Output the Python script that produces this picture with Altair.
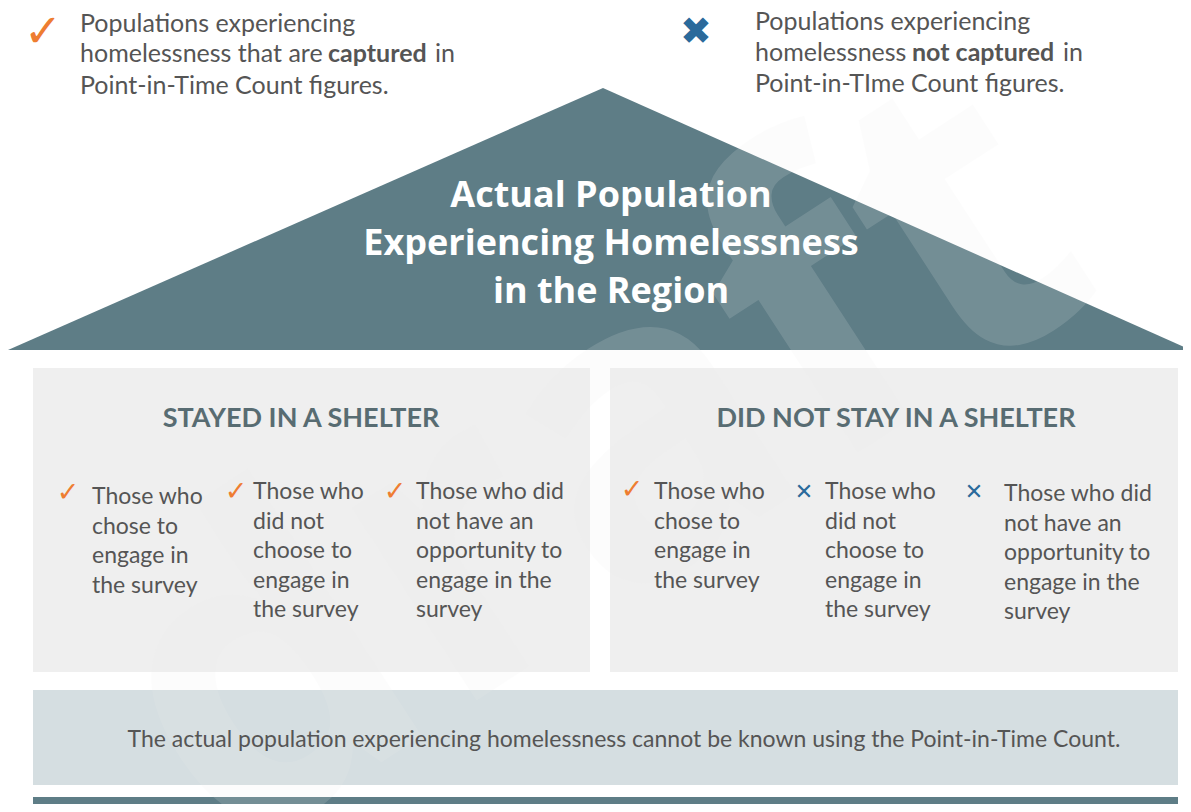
import altair as alt
import pandas as pd

# ---------------- content ----------------
legend_left_lines = ["Populations experiencing", "homelessness that are", "captured", "in", "Point-in-Time Count figures."]
legend_right_lines = ["Populations experiencing", "homelessness", "not captured", "in", "Point-in-TIme Count figures."]
roof_title = ["Actual Population", "Experiencing Homelessness", "in the Region"]
group_headers = ["STAYED IN A SHELTER", "DID NOT STAY IN A SHELTER"]
item_texts = [
    ["Those who", "chose to", "engage in", "the survey"],
    ["Those who", "did not", "choose to", "engage in", "the survey"],
    ["Those who did", "not have an", "opportunity to", "engage in the", "survey"],
    ["Those who", "chose to", "engage in", "the survey"],
    ["Those who", "did not", "choose to", "engage in", "the survey"],
    ["Those who did", "not have an", "opportunity to", "engage in the", "survey"],
]
item_captured = [True, True, True, True, False, False]
footer_text = "The actual population experiencing homelessness cannot be known using the Point-in-Time Count."
watermark = "draft"

# ---------------- colours ----------------
TEAL = "#5e7d86"
BOX = "#efefef"
BAR = "#d5dee1"
HEAD = "#586c72"
BODY = "#555555"
ORANGE = "#ee7d31"
BLUE = "#2a6a9b"
CHECK = "\u2713"
CROSS = "\u2715"

# ---------------- layout (pixel frame) ----------------
X = lambda f="x": alt.X(f"{f}:Q", scale=alt.Scale(domain=[8, 1183]), axis=None)
Y = lambda f="y": alt.Y(f"{f}:Q", scale=alt.Scale(domain=[8, 804], reverse=True), axis=None)

roof = pd.DataFrame({"x": [8, 603, 1191], "y": [350, 88, 350], "y2": [350, 350, 350]})
roof_layer = alt.Chart(roof).mark_area(color=TEAL, clip=True).encode(
    x=X(), y=Y(), y2="y2:Q")

boxes = pd.DataFrame({
    "x": [33, 610, 33, 33], "x2": [590, 1178, 1178, 1178],
    "y": [368, 368, 690, 797], "y2": [672, 672, 785, 804],
    "c": [BOX, BOX, BAR, TEAL]})
box_layer = alt.Chart(boxes).mark_rect(clip=True).encode(
    x=X(), x2="x2:Q", y=Y(), y2="y2:Q", color=alt.Color("c:N", scale=None))

wm = pd.DataFrame({"x": [600], "y": [470], "t": [watermark]})
wm_layer = alt.Chart(wm).mark_text(
    font="Open Sans", fontWeight="bold", fontSize=420, angle=327,
    color="#eeeeee", opacity=0.15, align="center", baseline="middle", clip=True).encode(
    x=X(), y=Y(), text="t:N")

def text_layer(df, **kw):
    return alt.Chart(df).mark_text(**kw).encode(x=X(), y=Y(), text="t:N")

# legend texts
leg_regular = pd.DataFrame({
    "x": [80, 80, 435, 80, 755, 755, 1063, 755],
    "y": [24, 54, 54, 86, 22, 53, 53, 84],
    "t": [legend_left_lines[0], legend_left_lines[1], legend_left_lines[3], legend_left_lines[4],
          legend_right_lines[0], legend_right_lines[1], legend_right_lines[3], legend_right_lines[4]]})
leg_bold = pd.DataFrame({"x": [328, 912], "y": [54, 53],
                         "t": [legend_left_lines[2], legend_right_lines[2]]})

legend_layers = [
    text_layer(leg_regular, font="Lato", fontSize=25, color=BODY, align="left", baseline="middle"),
    text_layer(leg_bold, font="Lato", fontSize=25, fontWeight="bold", color=BODY, align="left", baseline="middle"),
    text_layer(pd.DataFrame({"x": [43], "y": [33], "t": [CHECK]}),
               font="DejaVu Sans", fontSize=46, color=ORANGE, align="center", baseline="middle"),
    text_layer(pd.DataFrame({"x": [696], "y": [33], "t": ["\u2716"]}),
               font="DejaVu Sans", fontSize=38, color=BLUE, align="center", baseline="middle"),
]

title_df = pd.DataFrame({"x": [611, 611, 611], "y": [196, 244, 292], "t": roof_title})
title_layer = text_layer(title_df, font="Open Sans", fontWeight="bold", fontSize=36,
                         color="white", align="center", baseline="middle")

head_df = pd.DataFrame({"x": [301, 896], "y": [419, 419], "t": group_headers})
head_layer = text_layer(head_df, font="Lato", fontWeight="bold", fontSize=27,
                        color=HEAD, align="center", baseline="middle")

# items
col_x = [92, 253, 416, 654, 825, 1004]
col_y0 = [497, 492, 492, 492, 492, 494]
icon_x = [68, 236, 395, 632, 804, 974]
icon_y = [493, 492, 492, 490, 492, 492]
rows = []
for i, lines in enumerate(item_texts):
    for j, ln in enumerate(lines):
        rows.append({"x": col_x[i], "y": col_y0[i] + 29.5 * j, "t": ln})
items_df = pd.DataFrame(rows)
items_layer = text_layer(items_df, font="Lato", fontSize=23, color=BODY, align="left", baseline="middle")

chk = pd.DataFrame({"x": [icon_x[i] for i in range(6) if item_captured[i]],
                    "y": [icon_y[i] for i in range(6) if item_captured[i]], "t": CHECK})
crs = pd.DataFrame({"x": [icon_x[i] for i in range(6) if not item_captured[i]],
                    "y": [icon_y[i] for i in range(6) if not item_captured[i]], "t": CROSS})
chk_layer = text_layer(chk, font="DejaVu Sans", fontSize=27, color=ORANGE, align="center", baseline="middle")
crs_layer = text_layer(crs, font="DejaVu Sans", fontSize=22, fontWeight="bold", color=BLUE, align="center", baseline="middle")

foot_df = pd.DataFrame({"x": [624], "y": [740], "t": [footer_text]})
foot_layer = text_layer(foot_df, font="Lato", fontSize=23, color=BODY,
                        align="center", baseline="middle")

chart = alt.layer(
    box_layer, roof_layer, wm_layer, title_layer, head_layer, items_layer,
    chk_layer, crs_layer, foot_layer, *legend_layers
).properties(width=1175, height=796, padding=0, autosize="none", background="white"
).configure_view(stroke=None)

chart.save("out.html", embed_options={"renderer": "svg", "actions": False})
